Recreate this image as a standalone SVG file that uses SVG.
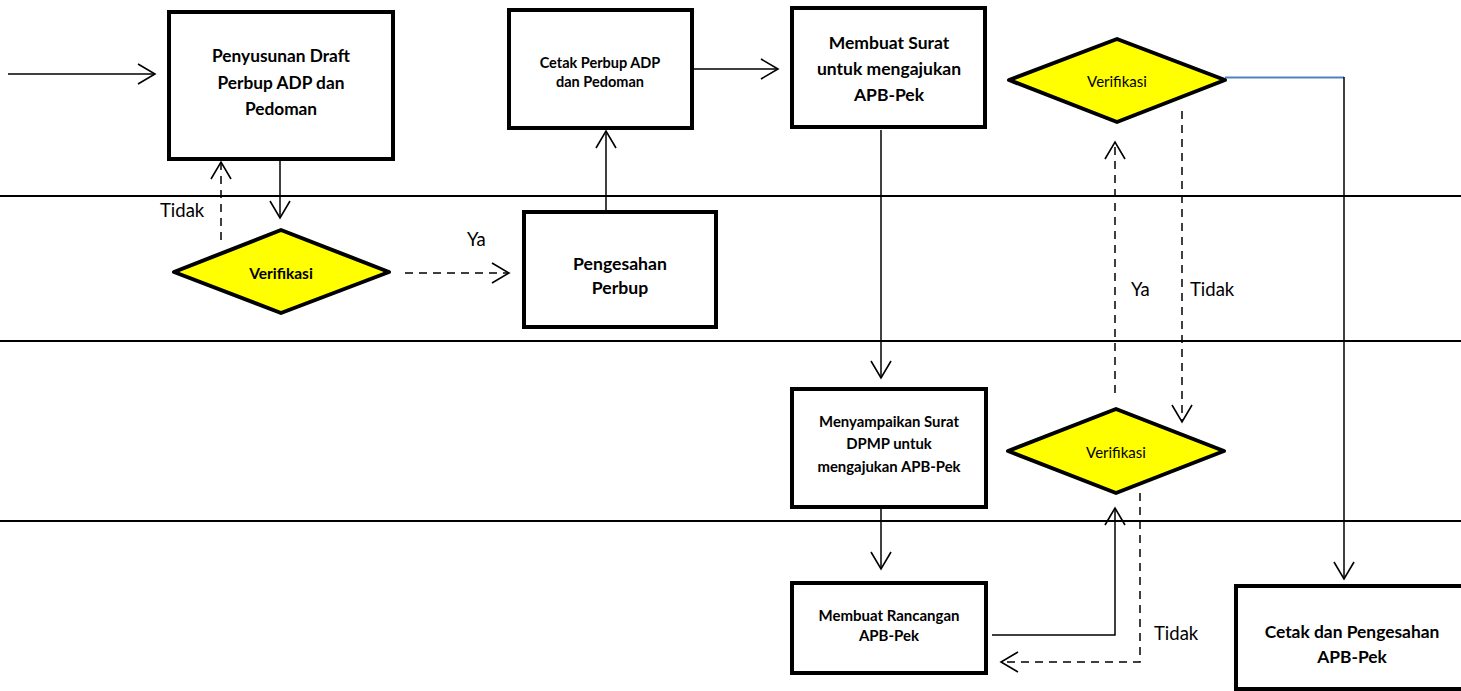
<svg xmlns="http://www.w3.org/2000/svg" width="1461" height="691" viewBox="0 0 1461 691">
<defs>
<style>
.lane{stroke:#000;stroke-width:2}
.box{fill:#fff;stroke:#000;stroke-width:4}
.dia{fill:#ffff00;stroke:#000;stroke-width:4;stroke-linejoin:round}
.c{fill:none;stroke:#000;stroke-width:1.5}
.d{fill:none;stroke:#000;stroke-width:1.5;stroke-dasharray:8 6}
.arr{marker-end:url(#ah)}
.t{font-family:Lato,"Liberation Sans",sans-serif;fill:#000;text-anchor:middle}
.b{font-weight:bold}
.lbl{font-family:Lato,"Liberation Sans",sans-serif;font-size:18.5px;fill:#000}
</style>
<marker id="ah" viewBox="-1 -1 19 22" refX="17" refY="10" markerWidth="19" markerHeight="22" markerUnits="userSpaceOnUse" orient="auto" overflow="visible">
<path d="M0,0 L17,10 L0,20" fill="none" stroke="#000" stroke-width="1.6"/>
</marker>
</defs>
<rect width="1461" height="691" fill="#fff"/>
<g id="lanes">
<line class="lane" x1="0" y1="196" x2="1461" y2="196"/>
<line class="lane" x1="0" y1="341" x2="1461" y2="341"/>
<line class="lane" x1="0" y1="521" x2="1461" y2="521"/>
</g>
<g id="connectors">
<line class="c arr" x1="8" y1="74" x2="155" y2="74"/>
<line class="c arr" x1="280" y1="141" x2="280" y2="218"/>
<line class="d arr" x1="221" y1="240" x2="221" y2="162"/>
<line class="d arr" x1="405" y1="273" x2="509" y2="273"/>
<line class="c arr" x1="606" y1="212" x2="606" y2="131"/>
<line class="c arr" x1="692" y1="69" x2="778" y2="69"/>
<line class="c arr" x1="881" y1="130" x2="881" y2="378"/>
<line x1="1225" y1="77.5" x2="1344" y2="77.5" stroke="#4f81bd" stroke-width="1.8"/>
<line class="c arr" x1="1344" y1="77" x2="1344" y2="579" stroke="#222"/>
<line class="d arr" x1="1115" y1="393" x2="1115" y2="142"/>
<line class="d arr" x1="1182" y1="111" x2="1182" y2="422"/>
<line class="c arr" x1="881" y1="507" x2="881" y2="569"/>
<polyline class="c arr" points="992,635 1115,635 1115,508"/>
<polyline class="d arr" points="1140,493 1140,662 1001,662"/>
</g>
<g id="labels">
<text class="lbl" x="160" y="217">Tidak</text>
<text class="lbl" x="467" y="246">Ya</text>
<text class="lbl" x="1131" y="296">Ya</text>
<text class="lbl" x="1190" y="296">Tidak</text>
<text class="lbl" x="1154" y="640">Tidak</text>
</g>
<g id="n-penyusunan">
<rect class="box" x="169" y="12" width="224" height="147"/>
<text class="t b" font-size="17.3"><tspan x="281" y="62">Penyusunan Draft</tspan><tspan x="281" y="89">Perbup ADP dan</tspan><tspan x="281" y="115">Pedoman</tspan></text>
</g>
<g id="n-verif1">
<polygon class="dia" points="174,272 281,230 389,272 281,313"/>
<text class="t b" font-size="15.5" x="281" y="279">Verifikasi</text>
</g>
<g id="n-pengesahan">
<rect class="box" x="524" y="212" width="192" height="115"/>
<text class="t b" font-size="17.6"><tspan x="620" y="270">Pengesahan</tspan><tspan x="620" y="294">Perbup</tspan></text>
</g>
<g id="n-cetak">
<rect class="box" x="509" y="10" width="183" height="118"/>
<text class="t b" font-size="14.5"><tspan x="600" y="68">Cetak Perbup ADP</tspan><tspan x="600" y="87">dan Pedoman</tspan></text>
</g>
<g id="n-membuat-surat">
<rect class="box" x="792" y="8" width="193" height="119"/>
<text class="t b" font-size="17.5"><tspan x="889" y="49">Membuat Surat</tspan><tspan x="889" y="75">untuk mengajukan</tspan><tspan x="889" y="101">APB-Pek</tspan></text>
</g>
<g id="n-verif2">
<polygon class="dia" points="1009,80 1117,39 1225,80 1117,122"/>
<text class="t" font-size="15" x="1117" y="87">Verifikasi</text>
</g>
<g id="n-menyampaikan">
<rect class="box" x="792" y="389" width="194" height="118"/>
<text class="t b" font-size="14.9"><tspan x="889" y="427">Menyampaikan Surat</tspan><tspan x="889" y="449">DPMP untuk</tspan><tspan x="889" y="472">mengajukan APB-Pek</tspan></text>
</g>
<g id="n-verif3">
<polygon class="dia" points="1008,451 1116,409 1224,451 1116,493"/>
<text class="t" font-size="15" x="1116" y="458">Verifikasi</text>
</g>
<g id="n-rancangan">
<rect class="box" x="792" y="583" width="194" height="90"/>
<text class="t b" font-size="15"><tspan x="889" y="621">Membuat Rancangan</tspan><tspan x="889" y="641">APB-Pek</tspan></text>
</g>
<g id="n-cetak-pengesahan">
<rect class="box" x="1236" y="586" width="240" height="103"/>
<text class="t b" font-size="17.4"><tspan x="1352" y="638">Cetak dan Pengesahan</tspan><tspan x="1352" y="663">APB-Pek</tspan></text>
</g>
</svg>
